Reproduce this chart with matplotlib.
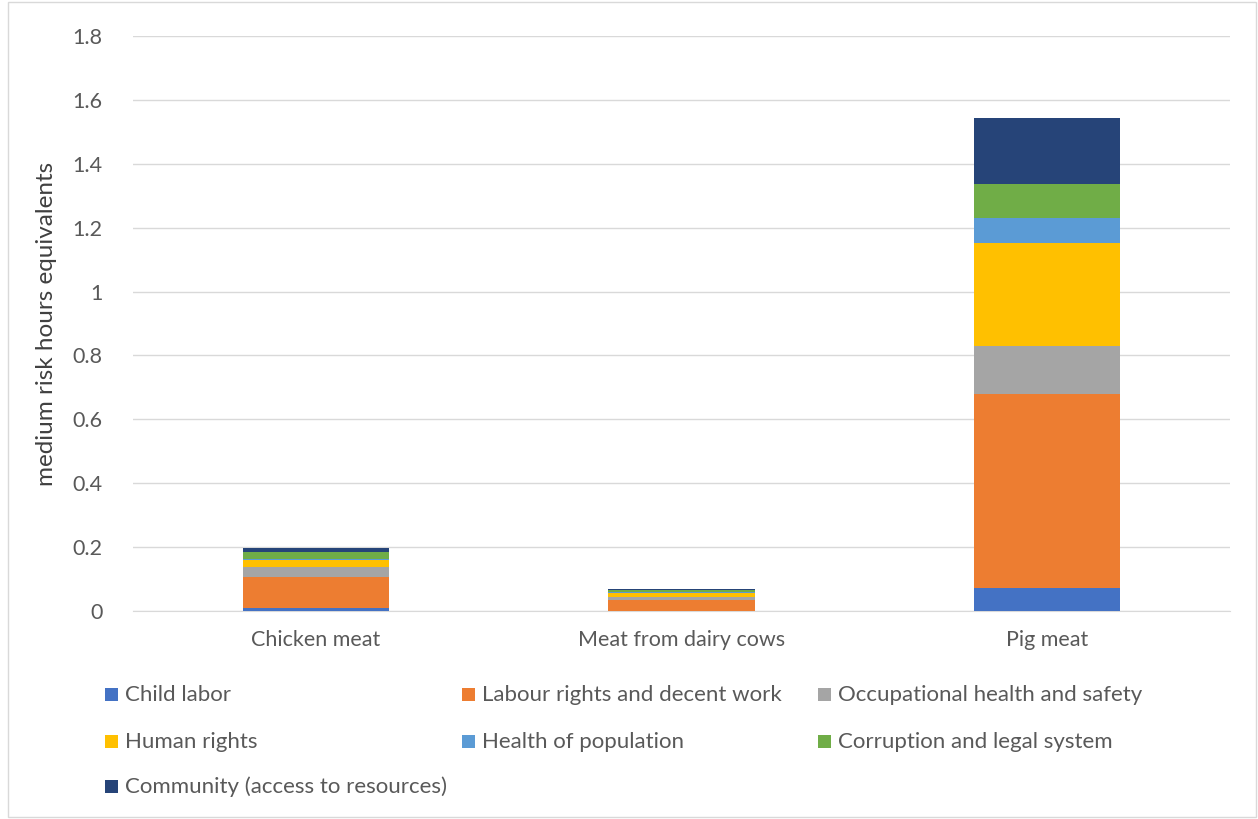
import numpy as np
import matplotlib.pyplot as plt
from matplotlib.patches import Rectangle

plt.rcParams['font.family'] = ['Lato', 'DejaVu Sans']

categories = ["Chicken meat", "Meat from dairy cows", "Pig meat"]
series_names = ["Child labor", "Labour rights and decent work", "Occupational health and safety",
                "Human rights", "Health of population", "Corruption and legal system",
                "Community (access to resources)"]
child_labor = [0.009, 0.001, 0.071]
labour_rights = [0.097, 0.033, 0.607]
occupational = [0.033, 0.011, 0.151]
human_rights = [0.021, 0.010, 0.324]
health_pop = [0.003, 0.003, 0.076]
corruption = [0.023, 0.008, 0.107]
community = [0.011, 0.003, 0.207]
colors = ["#4472C4", "#ED7D31", "#A5A5A5", "#FFC000", "#5B9BD5", "#70AD47", "#264478"]

series = [child_labor, labour_rights, occupational, human_rights, health_pop, corruption, community]

W, H = 1258, 819
fig = plt.figure(figsize=(W / 100, H / 100), dpi=100)
ax = fig.add_axes([133/W, 1 - 611/H, 1097/W, 575/H])

x = np.arange(len(categories))
bottom = np.zeros(len(categories))
for name, vals, c in zip(series_names, series, colors):
    ax.bar(x, vals, 0.4, bottom=bottom, color=c, linewidth=0, zorder=3)
    bottom += np.array(vals)

ax.set_xlim(-0.5, 2.5)
ax.set_ylim(0, 1.8)
yt = np.arange(0, 1.81, 0.2)
ax.set_yticks(yt)
ax.set_yticklabels([f"{v:g}" for v in np.round(yt, 1)])
ax.set_xticks(x)
ax.set_xticklabels(categories)
ax.tick_params(axis='both', length=0, labelsize=15.5, colors="#595959")
ax.tick_params(axis='x', pad=14)
ax.tick_params(axis='y', pad=22)
ax.grid(axis='y', color="#D9D9D9", linewidth=1, zorder=0)
for s in ["top", "right", "left"]:
    ax.spines[s].set_visible(False)
ax.spines["bottom"].set_color("#D9D9D9")
ax.set_ylabel("medium risk hours equivalents", fontsize=17.5, color="#404040", labelpad=11)

# legend laid out row by row like the original
col_x = [105, 462, 818]
row_y = [695, 742, 787]
for i, (name, c) in enumerate(zip(series_names, colors)):
    cx = col_x[i % 3]
    cy = row_y[i // 3]
    fig.patches.append(Rectangle((cx / W, 1 - (cy + 6) / H), 13 / W, 13 / H,
                                 transform=fig.transFigure, facecolor=c, edgecolor="none"))
    fig.text((cx + 20) / W, 1 - cy / H, name, fontsize=16, color="#595959",
             va="center", ha="left")

fig.patches.append(Rectangle((8/W, 2/H), 1248/W, 815/H, transform=fig.transFigure,
                             fill=False, edgecolor="#D9D9D9", linewidth=1))

fig.savefig("out.png", dpi=100)
